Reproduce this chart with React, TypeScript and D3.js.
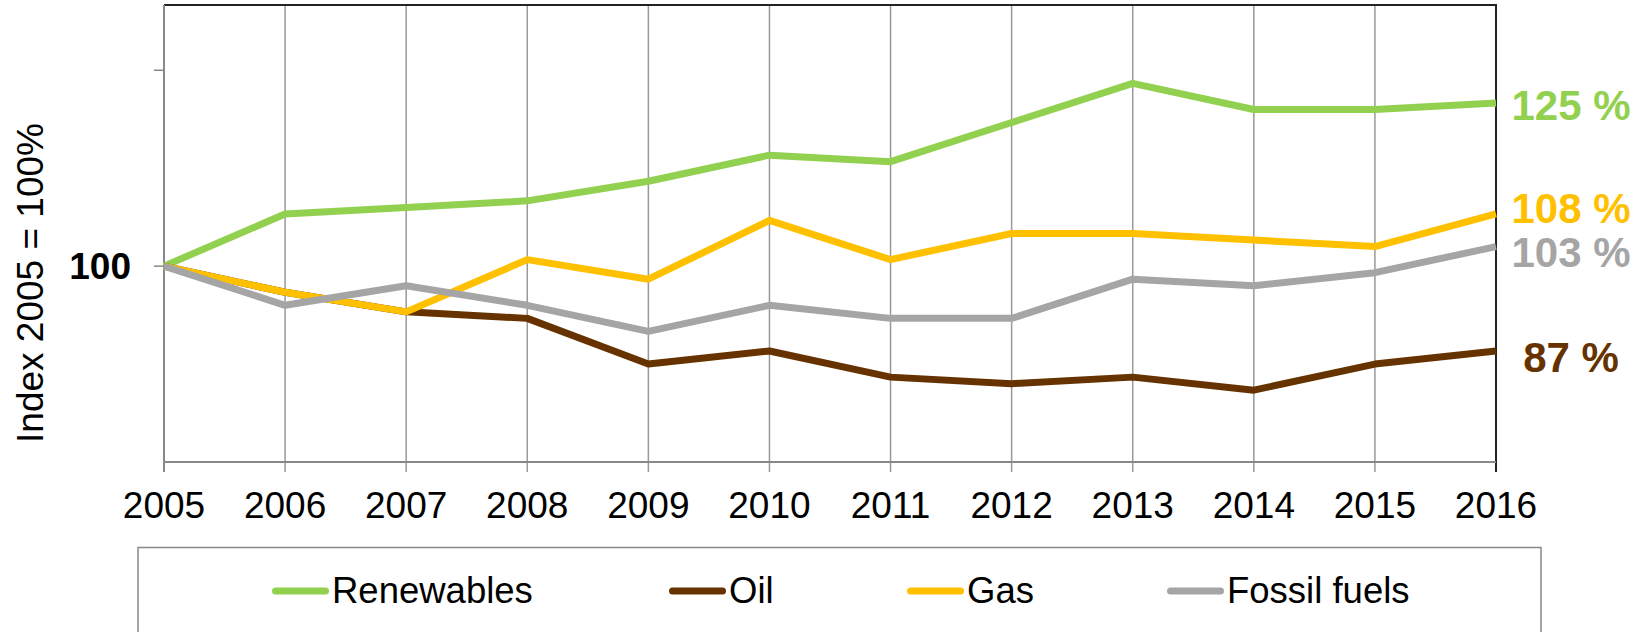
import * as d3 from "d3";

const years = ["2005", "2006", "2007", "2008", "2009", "2010", "2011", "2012", "2013", "2014", "2015", "2016"];
const renewables = [100, 108, 109, 110, 113, 117, 116, 122, 128, 124, 124, 125];
const oil = [100, 96, 93, 92, 85, 87, 83, 82, 83, 81, 85, 87];
const gas = [100, 96, 93, 101, 98, 107, 101, 105, 105, 104, 103, 108];
const fossil = [100, 94, 97, 94, 90, 94, 92, 92, 98, 97, 99, 103];
const seriesNames = ["Renewables", "Oil", "Gas", "Fossil fuels"];
const endLabels = ["125 %", "87 %", "108 %", "103 %"];
const yTicks = [100, 130];
const yTickLabels = ["100", ""];

const colors = ["#92D050", "#663300", "#FFC000", "#A5A5A5"];
// little shifts so the end labels don't collide
const labelNudge = [-3, 1, -11, 0];
const legendX = [272, 669, 907, 1167];

const font = "'Liberation Sans', Arial, sans-serif";

function Chart() {
  const left = 164;
  const right = 1496;
  const top = 5;
  const bottom = 462;

  const xScale = d3.scalePoint().domain(years).range([left, right]);
  const yScale = d3.scaleLinear().domain([70, 140]).range([bottom, top]);

  const allSeries = [renewables, oil, gas, fossil];

  const line = d3
    .line<number>()
    .x((d, i) => xScale(years[i]) as number)
    .y((d) => yScale(d));

  return (
    <svg width={1648} height={632} style={{ position: "absolute", left: 0, top: 0, background: "#fff" }}>
      {/* vertical gridlines */}
      {years.map((y, i) => (
        <line
          key={y}
          x1={xScale(y)}
          x2={xScale(y)}
          y1={top}
          y2={bottom + 10}
          stroke={i == years.length - 1 ? "#222" : "#999"}
          strokeWidth={i == years.length - 1 ? 2 : 1.5}
        />
      ))}
      {/* top border */}
      <line x1={left} x2={right + 1} y1={top} y2={top} stroke="#222" strokeWidth={2} />
      {/* left axis */}
      <line x1={left} x2={left} y1={top} y2={bottom + 10} stroke="#888" strokeWidth={2} />
      {yTicks.map((t, i) => (
        <g key={t}>
          <line x1={left - 10} x2={left} y1={yScale(t)} y2={yScale(t)} stroke="#888" strokeWidth={1.5} />
          <text
            x={left - 33}
            y={yScale(t) + 13}
            textAnchor="end"
            fontFamily={font}
            fontSize={37}
            fontWeight="bold"
            fill="#000"
          >
            {yTickLabels[i]}
          </text>
        </g>
      ))}
      {/* bottom axis */}
      <line x1={left} x2={right} y1={bottom} y2={bottom} stroke="#888" strokeWidth={2} />
      {years.map((y) => (
        <text key={y} x={xScale(y)} y={518} textAnchor="middle" fontFamily={font} fontSize={37} fill="#000">
          {y}
        </text>
      ))}

      {/* y title */}
      <text
        transform={`translate(43,283) rotate(-90)`}
        textAnchor="middle"
        fontFamily={font}
        fontSize={37}
        fill="#000"
      >
        Index 2005 = 100%
      </text>

      {/* lines */}
      {allSeries.map((s, i) => (
        <path
          key={seriesNames[i]}
          d={line(s) as string}
          fill="none"
          stroke={colors[i]}
          strokeWidth={7}
          strokeLinejoin="round"
        />
      ))}

      {/* end labels */}
      {allSeries.map((s, i) => (
        <text
          key={endLabels[i]}
          x={1571}
          y={yScale(s[s.length - 1]) + 20 + labelNudge[i]}
          textAnchor="middle"
          fontFamily={font}
          fontSize={42}
          fontWeight="bold"
          fill={colors[i]}
        >
          {endLabels[i]}
        </text>
      ))}

      {/* legend */}
      <rect x={138} y={547.5} width={1403} height={120} fill="none" stroke="#888" strokeWidth={1.5} />
      {seriesNames.map((name, i) => (
        <g key={name}>
          <line
            x1={legendX[i] + 3.5}
            x2={legendX[i] + 53.5}
            y1={591}
            y2={591}
            stroke={colors[i]}
            strokeWidth={7}
            strokeLinecap="round"
          />
          <text x={legendX[i] + 60} y={603} fontFamily={font} fontSize={36.5} fill="#000">
            {name}
          </text>
        </g>
      ))}
    </svg>
  );
}

export default function App() {
  return (
    <div>
      <Chart />
    </div>
  );
}
